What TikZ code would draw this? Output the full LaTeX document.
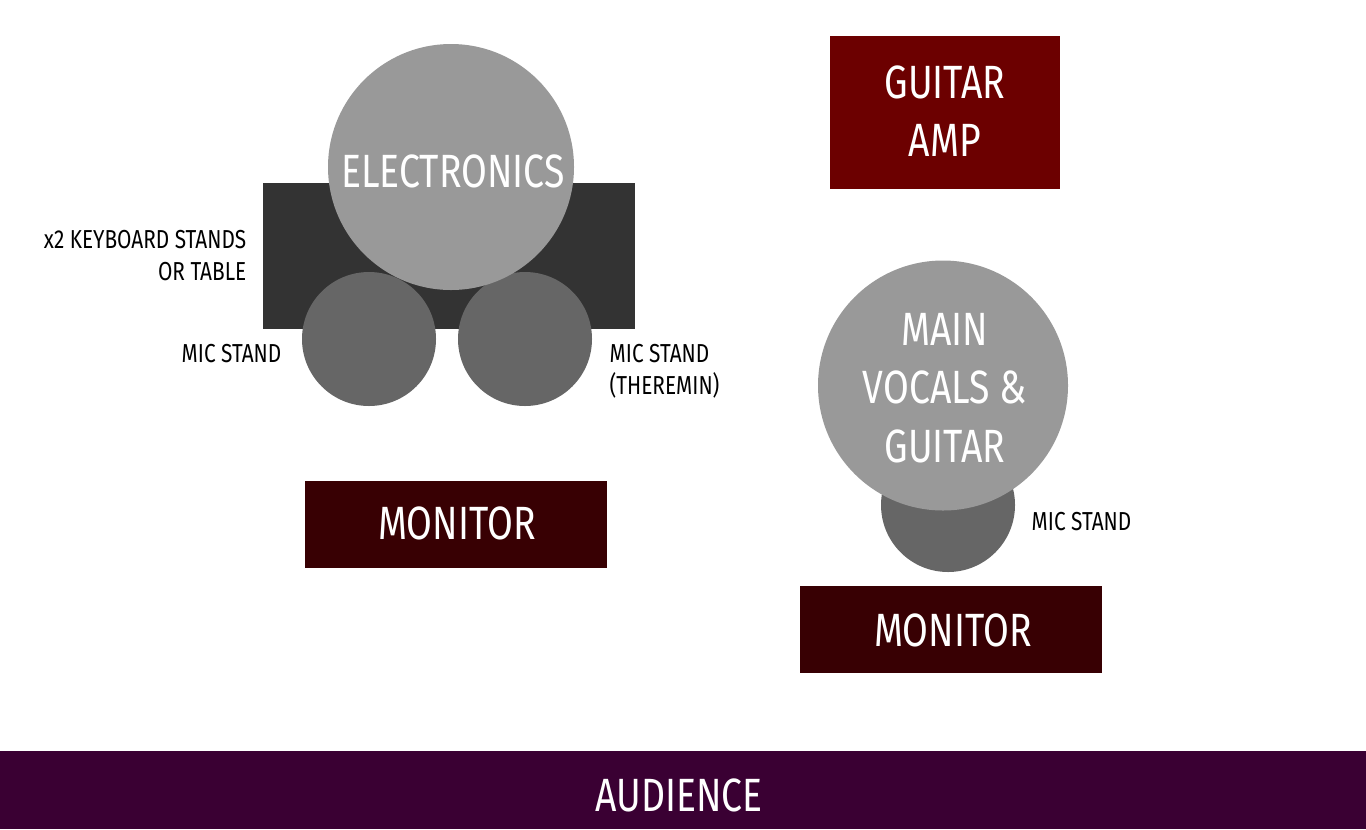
\documentclass[tikz,border=0pt]{standalone}
\usepackage{fontspec}
\setmainfont{Fira Sans}[FakeStretch=0.8]
\definecolor{ampred}{HTML}{6C0000}
\definecolor{monred}{HTML}{380003}
\definecolor{audpurple}{HTML}{3A0033}
\definecolor{tabledark}{HTML}{333333}
\definecolor{biggray}{HTML}{999999}
\definecolor{smallgray}{HTML}{666666}
\tikzset{
  bigtext/.style={text=white, font=\fontsize{35}{44}\selectfont, align=center, inner sep=0pt},
  smalltext/.style={text=black, font=\fontsize{19.5}{24}\selectfont},
  bigcircle/.style={circle, fill=biggray, minimum size=#1, inner sep=0pt, draw=none},
  smallcircle/.style={circle, fill=smallgray, minimum size=100.5pt, inner sep=0pt, draw=none},
  boxshape/.style={rectangle, inner sep=0pt, draw=none},
}
\begin{document}
\begin{tikzpicture}[x=0.75pt, y=-0.75pt]
\useasboundingbox (0,0) rectangle (1366,829);
% table
\node[boxshape, fill=tabledark, minimum width=279pt, minimum height=109.5pt] (table) at (449,256) {};
% small mic stand circles
\node[smallcircle] (micL) at (369,339) {};
\node[smallcircle] (micR) at (525,339) {};
% electronics
\node[bigcircle=184.5pt] (elec) at (451,167) {};
\node[bigtext] (electext) at (453,171) {ELECTRONICS};
% guitar amp
\node[boxshape, fill=ampred, minimum width=172.5pt, minimum height=114.75pt] (amp) at (945,112.5) {};
\node[bigtext] (amptext) at (945,111) {GUITAR\\AMP};
% vocal mic
\node[smallcircle] (micV) at (948,505) {};
% main vocals
\node[bigcircle=187.5pt] (vocals) at (943,385.5) {};
\node[bigtext] (vocalstext) at (945,388) {MAIN\\VOCALS \&\\GUITAR};
% monitors
\node[boxshape, fill=monred, minimum width=226.5pt, minimum height=65.25pt] (monL) at (456,524.5) {};
\node[bigtext] (monLtext) at (457,523) {MONITOR};
\node[boxshape, fill=monred, minimum width=226.5pt, minimum height=65.25pt] (monR) at (951,629.5) {};
\node[bigtext] (monRtext) at (953,630) {MONITOR};
% audience
\node[boxshape, fill=audpurple, minimum width=1024.5pt, minimum height=58.5pt] (aud) at (683,790) {};
\node[bigtext] (audtext) at (679,795) {AUDIENCE};
% labels
\node[smalltext, anchor=east, align=right] (kbd) at (251,256) {x2 KEYBOARD STANDS\\OR TABLE};
\node[smalltext, anchor=east] (micLlab) at (286,354) {MIC STAND};
\node[smalltext, anchor=west, align=left] (micRlab) at (605,371) {MIC STAND\\(THEREMIN)};
\node[smalltext, anchor=west] (micVlab) at (1027,522) {MIC STAND};
\end{tikzpicture}
\end{document}
